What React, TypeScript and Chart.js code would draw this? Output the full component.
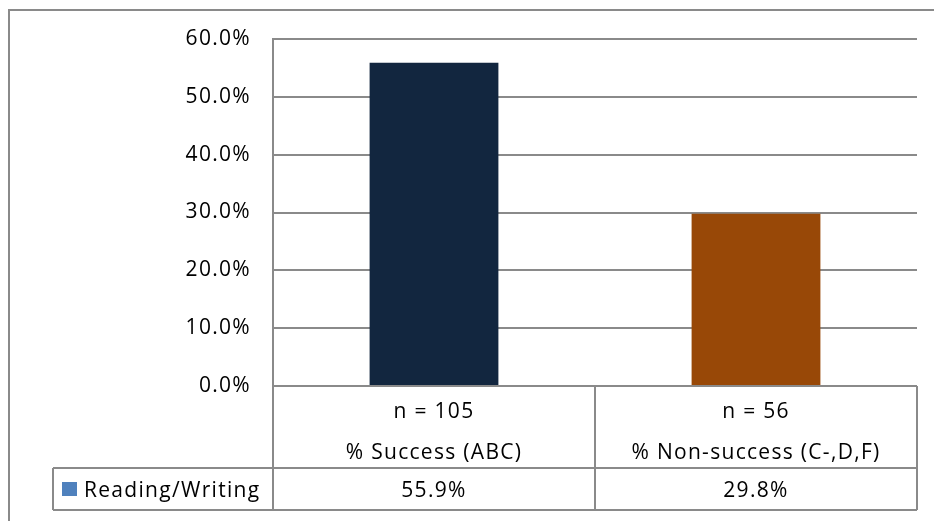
import React, { useEffect, useRef } from "react";
import { Chart, registerables } from "chart.js";

Chart.register(...registerables);

const categories = ["% Success (ABC)", "% Non-success (C-,D,F)"];
const nLabels = ["n = 105", "n = 56"];
const seriesName = "Reading/Writing";
const values = [55.9, 29.8];
const barColors = ["#12263F", "#984807"];
const legendColor = "#4F81BD";
const yMax = 60;
const yStep = 10;

const FONT = "'Open Sans', 'Noto Sans', sans-serif";
const FS = 21;
const SPACING = "1.3px";
const LINE = "#8a8a8a";

const spacingPlugin = {
  id: "spacing",
  beforeDraw(chart: any) {
    (chart.ctx as any).letterSpacing = SPACING;
  },
};

const tablePlugin = {
  id: "dataTable",
  afterDraw(chart: any) {
    const ctx = chart.ctx as CanvasRenderingContext2D;
    const area = chart.chartArea;
    const xs = chart.scales.x;
    const left = area.left;
    const right = area.right;
    const top = area.bottom;
    const rowMid = top + 82;
    const bottom = top + 124;
    const legendLeft = 53;
    const p0 = xs.getPixelForValue(0);
    const p1 = xs.getPixelForValue(1);
    const mid = (p0 + p1) / 2;
    const bounds = [left, mid, right];

    ctx.save();
    ctx.strokeStyle = LINE;
    ctx.lineWidth = 2;
    ctx.beginPath();
    ctx.rect(9, 10, 940, 530);
    ctx.moveTo(legendLeft, rowMid);
    ctx.lineTo(right, rowMid);
    ctx.moveTo(legendLeft, bottom);
    ctx.lineTo(right, bottom);
    for (const b of bounds) {
      ctx.moveTo(b, top);
      ctx.lineTo(b, bottom);
    }
    ctx.moveTo(legendLeft, rowMid);
    ctx.lineTo(legendLeft, bottom);
    ctx.stroke();

    (ctx as any).letterSpacing = SPACING;
    ctx.fillStyle = "#000";
    ctx.font = `${FS}px ${FONT}`;
    ctx.textAlign = "center";
    ctx.textBaseline = "middle";
    for (let i = 0; i < categories.length; i++) {
      const cx = (bounds[i] + bounds[i + 1]) / 2;
      ctx.fillText(nLabels[i], cx, top + 26);
      ctx.fillText(categories[i], cx, top + 67);
      ctx.fillText(values[i].toFixed(1) + "%", cx, rowMid + 23);
    }
    ctx.fillStyle = legendColor;
    ctx.fillRect(62, rowMid + 14, 15, 14);
    ctx.fillStyle = "#000";
    ctx.textAlign = "left";
    ctx.fillText(seriesName, 84, rowMid + 23);
    ctx.restore();
  },
};

export default function App() {
  const ref = useRef<HTMLCanvasElement | null>(null);
  useEffect(() => {
    if (!ref.current) return;
    const chart = new Chart(ref.current, {
      type: "bar",
      data: {
        labels: categories,
        datasets: [
          {
            label: seriesName,
            data: values,
            backgroundColor: barColors,
            barPercentage: 0.4,
            categoryPercentage: 1,
          },
        ],
      },
      options: {
        animation: false,
        responsive: false,
        maintainAspectRatio: false,
        layout: { padding: { left: 0, right: 17, top: 39, bottom: 135 } },
        plugins: { legend: { display: false }, tooltip: { enabled: false } },
        scales: {
          x: { display: false },
          y: {
            min: 0,
            max: yMax,
            afterFit: (s: any) => {
              s.width = 273;
            },
            ticks: {
              stepSize: yStep,
              padding: 22,
              color: "#000",
              font: { family: FONT, size: FS },
              callback: (v: any) => Number(v).toFixed(1) + "%",
            },
            grid: { color: LINE, lineWidth: 2, drawTicks: false },
            border: { display: true, color: LINE, width: 2 },
          },
        },
      },
      plugins: [spacingPlugin, tablePlugin],
    });
    return () => chart.destroy();
  }, []);
  return (
    <div style={{ position: "fixed", left: 0, top: 0, width: 934, height: 521, background: "#fff" }}>
      <canvas ref={ref} width={934} height={521} style={{ width: 934, height: 521 }} />
    </div>
  );
}
